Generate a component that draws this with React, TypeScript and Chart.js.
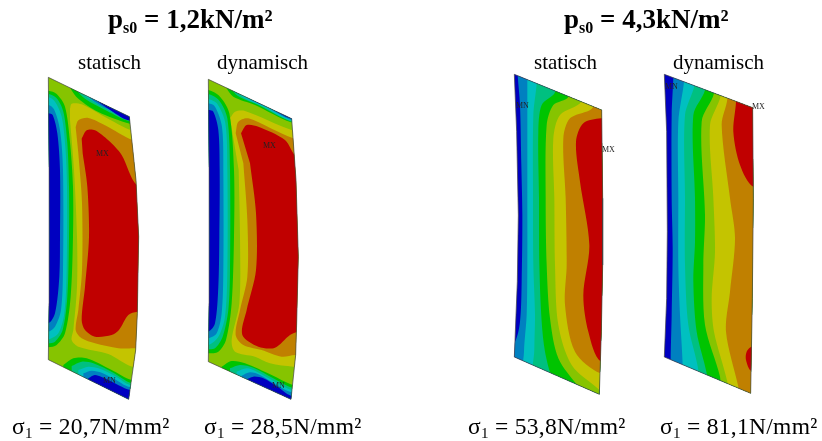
import React, { useEffect, useRef } from "react";
import { Chart, registerables } from "chart.js";

type Pt = [number, number];
type Band = { level: number; pts: Pt[] };

const WIDTH = 822;
const HEIGHT = 441;
const CROP_SCALE = 3;

// ordered contour levels, low to high
const levelColors = ["#0000c0", "#0080c0", "#00c0c0", "#00c080", "#00c400", "#86c400", "#c4c400", "#c08000", "#c00000"];

const panelOrigins: Pt[] = [[30, 70], [190, 70], [500, 65], [650, 65]];

const outlineA: Pt[] = [[55, 22], [298, 140], [318, 330], [326, 500], [322, 730], [317, 840], [296, 988], [55, 869], [57, 700], [58, 500], [57, 300]];
const outlineB: Pt[] = [[55, 28], [305, 146], [318, 330], [325, 560], [320, 760], [317, 855], [303, 988], [55, 875], [57, 700], [58, 500], [57, 300]];
const outlineC: Pt[] = [[43, 28], [305, 135], [308, 400], [308, 600], [304, 800], [298, 988], [43, 876], [52, 650], [55, 450], [50, 200]];
const outlineD: Pt[] = [[43, 28], [308, 128], [310, 400], [307, 700], [302, 985], [43, 876], [50, 700], [52, 500], [50, 200]];

const bandsA: Band[] = [
  { level: 5, pts: [[0, 0], [400, 0], [400, 1020], [0, 1020]] },
  { level: 6, pts: [[120, 116], [125, 101], [155, 103], [225, 141], [305, 181], [380, 190], [380, 890], [307, 890], [235, 852], [145, 830], [125, 810], [130, 780], [141, 650], [141, 500], [132, 300], [120, 150]] },
  { level: 7, pts: [[137, 171], [145, 151], [175, 144], [225, 166], [310, 211], [380, 220], [380, 835], [313, 835], [265, 835], [195, 820], [155, 805], [137, 780], [145, 720], [156, 600], [156, 400], [145, 250]] },
  { level: 8, pts: [[155, 206], [170, 181], [195, 181], [235, 211], [275, 255], [320, 345], [380, 350], [380, 725], [322, 725], [295, 735], [267, 780], [245, 795], [195, 800], [165, 780], [155, 750], [165, 650], [177, 500], [172, 350], [158, 250]] },
  { level: 4, pts: [[0, 62], [55, 62], [80, 72], [105, 110], [120, 216], [129, 350], [129, 500], [122, 680], [105, 790], [80, 825], [55, 832], [0, 832]] },
  { level: 3, pts: [[0, 72], [55, 72], [80, 85], [100, 125], [112, 220], [117, 350], [117, 500], [112, 680], [98, 780], [75, 815], [55, 820], [0, 820]] },
  { level: 2, pts: [[0, 82], [55, 82], [75, 95], [95, 140], [106, 230], [111, 350], [110, 600], [103, 730], [85, 790], [55, 808], [0, 808]] },
  { level: 1, pts: [[0, 105], [55, 105], [72, 118], [90, 180], [99, 300], [99, 600], [93, 720], [75, 770], [55, 785], [0, 785]] },
  { level: 0, pts: [[0, 130], [55, 130], [68, 135], [82, 190], [90, 300], [90, 500], [88, 620], [75, 730], [55, 760], [0, 760]] },
  { level: 4, pts: [[120, 40], [122, 56], [145, 86], [205, 126], [300, 161], [380, 170], [380, 60], [120, 0]] },
  { level: 3, pts: [[140, 40], [142, 62], [165, 86], [230, 122], [300, 154], [380, 160], [380, 60], [140, 0]] },
  { level: 2, pts: [[155, 40], [157, 68], [180, 88], [240, 122], [300, 150], [380, 150], [380, 60], [155, 0]] },
  { level: 1, pts: [[170, 50], [172, 76], [210, 106], [255, 128], [300, 148], [380, 150], [380, 60], [170, 0]] },
  { level: 0, pts: [[190, 60], [195, 86], [235, 116], [295, 151], [380, 155], [380, 60], [190, 0]] },
  { level: 4, pts: [[100, 885], [130, 865], [170, 865], [245, 900], [305, 930], [380, 935], [380, 1020], [100, 1020]] },
  { level: 3, pts: [[125, 888], [155, 875], [190, 880], [250, 908], [305, 940], [380, 945], [380, 1020], [125, 1020]] },
  { level: 2, pts: [[145, 900], [175, 890], [205, 895], [255, 918], [300, 945], [380, 950], [380, 1020], [145, 1020]] },
  { level: 1, pts: [[160, 910], [185, 902], [215, 908], [255, 928], [295, 950], [380, 955], [380, 1020], [160, 1020]] },
  { level: 0, pts: [[175, 925], [195, 915], [235, 930], [300, 960], [380, 965], [380, 1020], [175, 1020]] },
];

const bandsB: Band[] = [
  { level: 5, pts: [[0, 0], [400, 0], [400, 1020], [0, 1020]] },
  { level: 6, pts: [[120, 145], [135, 125], [165, 123], [305, 180], [380, 190], [380, 890], [310, 890], [240, 880], [195, 860], [135, 845], [125, 810], [148, 700], [150, 500], [146, 300]] },
  { level: 7, pts: [[137, 190], [145, 155], [175, 145], [310, 205], [380, 210], [380, 855], [315, 855], [275, 860], [215, 840], [160, 825], [137, 795], [150, 720], [172, 620], [172, 450], [160, 280]] },
  { level: 8, pts: [[153, 190], [170, 165], [205, 170], [285, 210], [320, 260], [380, 265], [380, 785], [325, 785], [300, 795], [255, 833], [205, 830], [157, 795], [170, 720], [198, 600], [198, 430], [180, 280]] },
  { level: 4, pts: [[0, 60], [55, 60], [90, 80], [118, 130], [132, 300], [132, 500], [125, 700], [108, 810], [85, 845], [55, 850], [0, 850]] },
  { level: 3, pts: [[0, 72], [55, 72], [88, 92], [112, 145], [120, 300], [120, 600], [115, 720], [98, 800], [75, 835], [55, 838], [0, 838]] },
  { level: 2, pts: [[0, 88], [55, 88], [82, 102], [106, 160], [112, 300], [112, 600], [105, 740], [85, 800], [55, 825], [0, 825]] },
  { level: 1, pts: [[0, 100], [55, 100], [75, 110], [96, 170], [100, 300], [100, 600], [95, 730], [80, 790], [55, 805], [0, 805]] },
  { level: 0, pts: [[0, 120], [55, 120], [70, 125], [85, 180], [89, 300], [88, 500], [85, 650], [75, 760], [55, 785], [0, 785]] },
  { level: 4, pts: [[108, 40], [110, 55], [130, 80], [195, 105], [303, 157], [380, 165], [380, 60], [108, 0]] },
  { level: 3, pts: [[125, 40], [128, 62], [150, 82], [205, 105], [305, 155], [380, 160], [380, 60], [125, 0]] },
  { level: 2, pts: [[145, 50], [148, 72], [170, 88], [215, 108], [305, 153], [380, 155], [380, 60], [145, 0]] },
  { level: 1, pts: [[165, 60], [168, 80], [225, 108], [305, 150], [380, 155], [380, 60], [165, 0]] },
  { level: 0, pts: [[182, 60], [187, 88], [240, 114], [303, 146], [380, 150], [380, 60], [182, 0]] },
  { level: 4, pts: [[95, 890], [125, 873], [165, 880], [245, 915], [310, 945], [380, 950], [380, 1020], [95, 1020]] },
  { level: 3, pts: [[120, 895], [150, 885], [190, 893], [250, 925], [307, 953], [380, 955], [380, 1020], [120, 1020]] },
  { level: 2, pts: [[140, 905], [170, 895], [200, 905], [255, 935], [307, 960], [380, 962], [380, 1020], [140, 1020]] },
  { level: 1, pts: [[155, 917], [180, 907], [210, 915], [260, 945], [305, 967], [380, 970], [380, 1020], [155, 1020]] },
  { level: 0, pts: [[165, 930], [190, 920], [220, 925], [265, 952], [303, 977], [380, 980], [380, 1020], [165, 1020]] },
];

const bandsC: Band[] = [
  { level: 0, pts: [[0, 0], [400, 0], [400, 1020], [0, 1020]] },
  { level: 1, pts: [[53, 0], [53, 30], [60, 120], [64, 300], [67, 450], [65, 650], [60, 770], [45, 830], [20, 845], [20, 1020], [400, 1020], [400, 0]] },
  { level: 2, pts: [[82, 0], [82, 45], [82, 150], [82, 400], [82, 600], [80, 750], [72, 860], [72, 1020], [400, 1020], [400, 0]] },
  { level: 3, pts: [[110, 0], [110, 55], [100, 150], [99, 400], [100, 600], [105, 750], [103, 850], [105, 1020], [400, 1020], [400, 0]] },
  { level: 4, pts: [[165, 0], [165, 82], [125, 120], [115, 200], [117, 400], [118, 600], [125, 770], [135, 860], [155, 935], [200, 1020], [400, 1020], [400, 0]] },
  { level: 5, pts: [[205, 0], [205, 95], [160, 120], [140, 180], [137, 400], [140, 600], [150, 760], [175, 880], [235, 965], [280, 1020], [400, 1020], [400, 0]] },
  { level: 6, pts: [[245, 0], [245, 108], [180, 150], [160, 220], [163, 400], [165, 600], [175, 780], [215, 900], [298, 975], [340, 1020], [400, 1020], [400, 0]] },
  { level: 7, pts: [[280, 0], [280, 125], [210, 160], [190, 220], [197, 400], [200, 600], [195, 720], [225, 860], [302, 925], [400, 925], [400, 0]] },
  { level: 8, pts: [[400, 160], [303, 160], [250, 175], [228, 230], [240, 350], [268, 540], [250, 690], [265, 800], [303, 890], [400, 890]] },
];

const bandsD: Band[] = [
  { level: 0, pts: [[0, 0], [400, 0], [400, 1020], [0, 1020]] },
  { level: 1, pts: [[70, 0], [70, 38], [65, 150], [65, 400], [68, 550], [65, 750], [62, 885], [62, 1020], [400, 1020], [400, 0]] },
  { level: 2, pts: [[102, 0], [102, 50], [85, 170], [85, 400], [85, 600], [90, 750], [98, 900], [98, 1020], [400, 1020], [400, 0]] },
  { level: 3, pts: [[133, 0], [133, 62], [105, 150], [105, 400], [105, 600], [115, 780], [145, 915], [150, 1020], [400, 1020], [400, 0]] },
  { level: 4, pts: [[165, 0], [165, 75], [130, 150], [135, 400], [135, 530], [130, 650], [140, 800], [170, 925], [180, 1020], [400, 1020], [400, 0]] },
  { level: 5, pts: [[192, 0], [192, 85], [155, 170], [165, 450], [160, 600], [165, 780], [210, 935], [220, 1020], [400, 1020], [400, 0]] },
  { level: 6, pts: [[212, 0], [212, 92], [180, 180], [190, 400], [195, 560], [185, 700], [192, 800], [232, 950], [240, 1020], [400, 1020], [400, 0]] },
  { level: 7, pts: [[232, 0], [232, 102], [215, 180], [240, 400], [255, 520], [240, 680], [228, 800], [265, 965], [275, 1020], [400, 1020], [400, 0]] },
  { level: 8, pts: [[258, 0], [258, 110], [250, 200], [270, 300], [310, 365], [400, 365], [400, 0]] },
  { level: 8, pts: [[400, 845], [305, 845], [290, 860], [288, 885], [305, 918], [400, 918]] },
];

const panelOutlines = [outlineA, outlineB, outlineC, outlineD];
const panelBands = [bandsA, bandsB, bandsC, bandsD];

const titles = [
  { sub: "s0", rest: " = 1,2kN/m²", left: 108 },
  { sub: "s0", rest: " = 4,3kN/m²", left: 564 },
];
const headers = [
  { text: "statisch", left: 78 },
  { text: "dynamisch", left: 217 },
  { text: "statisch", left: 534 },
  { text: "dynamisch", left: 673 },
];
const captions = [
  { text: " = 20,7N/mm²", left: 12 },
  { text: " = 28,5N/mm²", left: 204 },
  { text: " = 53,8N/mm²", left: 468 },
  { text: " = 81,1N/mm²", left: 660 },
];
const extremes = [
  { text: "MX", left: 96, top: 150 },
  { text: "MN", left: 103, top: 377 },
  { text: "MX", left: 263, top: 142 },
  { text: "MN", left: 272, top: 382 },
  { text: "MN", left: 516, top: 102 },
  { text: "MX", left: 602, top: 146 },
  { text: "MN", left: 665, top: 83 },
  { text: "MX", left: 752, top: 103 },
];

const toData = (pts: Pt[], o: Pt) => pts.map(([x, y]) => ({ x: o[0] + x / CROP_SCALE, y: o[1] + y / CROP_SCALE }));

const clipPlugin = {
  id: "panelClip",
  beforeDatasetDraw(chart: any, args: any) {
    const shape = chart.data.datasets[args.index].clipShape;
    if (!shape) return;
    const { ctx, scales } = chart;
    ctx.save();
    ctx.beginPath();
    shape.forEach((p: any, i: number) => {
      const px = scales.x.getPixelForValue(p.x);
      const py = scales.y.getPixelForValue(p.y);
      if (i === 0) ctx.moveTo(px, py);
      else ctx.lineTo(px, py);
    });
    ctx.closePath();
    ctx.clip();
  },
  afterDatasetDraw(chart: any, args: any) {
    if (chart.data.datasets[args.index].clipShape) chart.ctx.restore();
  },
};

// the clip must be registered ahead of the Filler so that it wraps the fill
Chart.register(clipPlugin);
Chart.register(...registerables);

const serif = '"Liberation Serif", serif';
const place = (left: number, top: number, size: number, extra: any = {}): any => ({
  position: "absolute", left, top, fontSize: size, lineHeight: `${size}px`, fontFamily: serif, whiteSpace: "pre", color: "#000", ...extra,
});

export default function App() {
  const ref = useRef<HTMLCanvasElement>(null);
  useEffect(() => {
    const datasets: any[] = [];
    panelBands.forEach((bands, i) => {
      const outline = toData(panelOutlines[i], panelOrigins[i]);
      bands.forEach((b) => {
        datasets.push({
          data: toData(b.pts, panelOrigins[i]),
          clipShape: outline,
          showLine: true,
          fill: "shape",
          tension: 0.3,
          backgroundColor: levelColors[b.level],
          borderColor: "transparent",
          borderWidth: 0,
          pointRadius: 0,
        });
      });
      datasets.push({
        data: [...outline, outline[0]],
        showLine: true,
        fill: false,
        tension: 0,
        borderColor: "#444444",
        borderWidth: 0.7,
        pointRadius: 0,
      });
    });
    const chart = new Chart(ref.current!, {
      type: "scatter",
      data: { datasets: datasets.reverse() },
      options: {
        animation: false,
        responsive: false,
        devicePixelRatio: 1,
        layout: { padding: 0 },
        plugins: { legend: { display: false }, tooltip: { enabled: false }, title: { display: false } },
        scales: {
          x: { type: "linear", min: 0, max: WIDTH, display: false },
          y: { type: "linear", min: 0, max: HEIGHT, reverse: true, display: false },
        },
      },
    } as any);
    return () => chart.destroy();
  }, []);
  return (
    <div style={{ position: "fixed", left: 0, top: 0, width: WIDTH, height: HEIGHT, background: "#fff", overflow: "hidden" }}>
      <canvas ref={ref} width={WIDTH} height={HEIGHT} style={{ display: "block", filter: "blur(0.5px)" }} />
      {titles.map((t, i) => (
        <div key={i} style={place(t.left, 6, 27, { fontWeight: "bold" })}>
          p<span style={{ fontSize: 16, position: "relative", top: 5 }}>{t.sub}</span>{t.rest}
        </div>
      ))}
      {headers.map((h, i) => (
        <div key={i} style={place(h.left, 52, 21)}>{h.text}</div>
      ))}
      {captions.map((c, i) => (
        <div key={i} style={place(c.left, 415, 23.5, { letterSpacing: "0.3px" })}>
          σ<span style={{ fontSize: 15, position: "relative", top: 4 }}>1</span>{c.text}
        </div>
      ))}
      {extremes.map((m, i) => (
        <div key={i} style={place(m.left, m.top, 8, { color: "#222" })}>{m.text}</div>
      ))}
    </div>
  );
}
